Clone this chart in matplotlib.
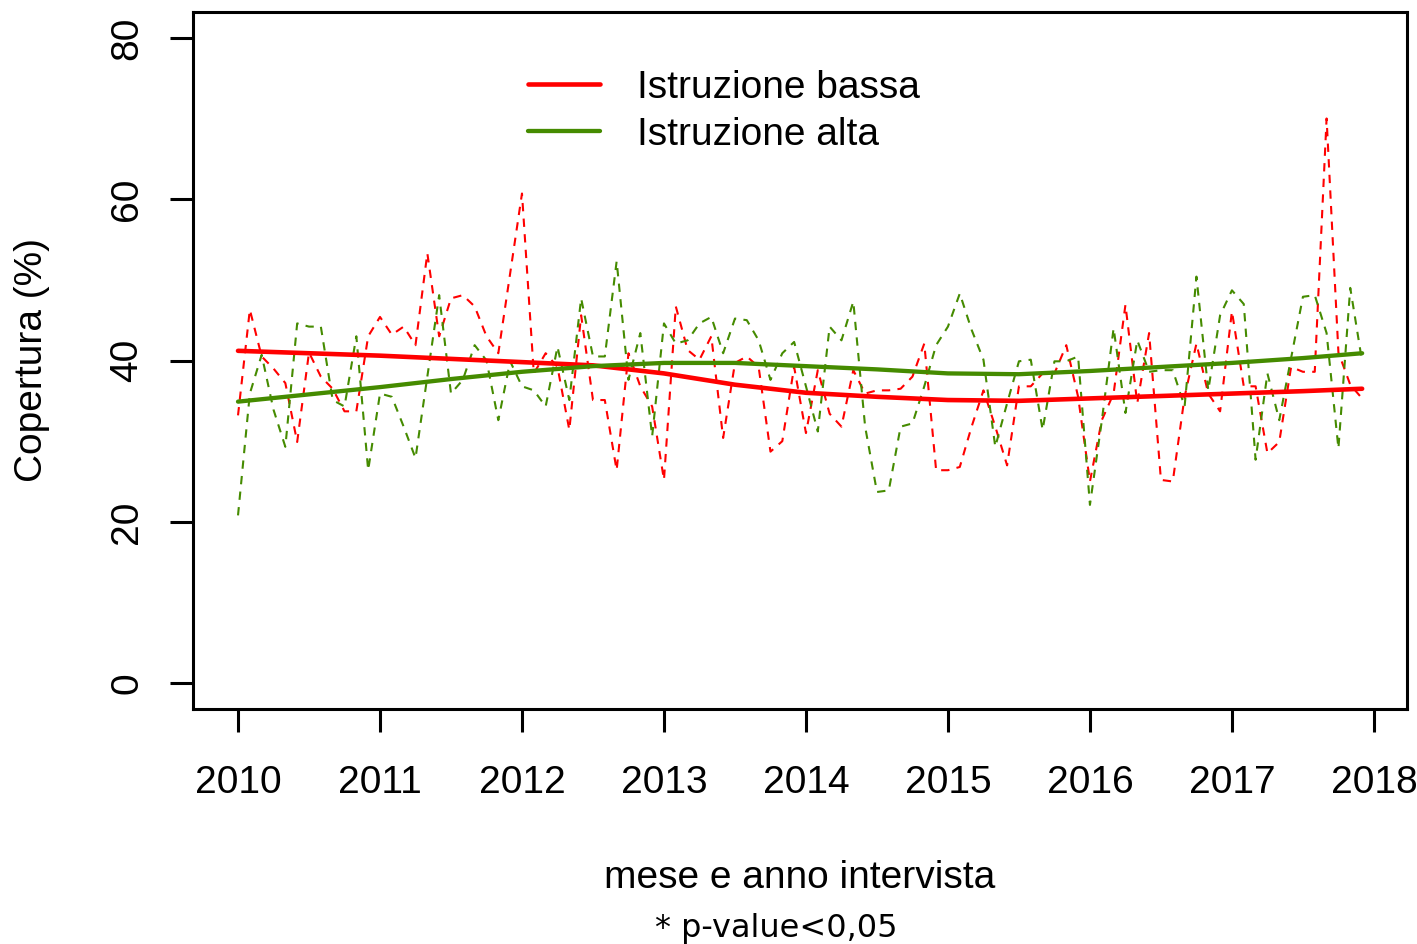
import matplotlib
matplotlib.use("Agg")
import matplotlib.pyplot as plt
import numpy as np

# ---- data ----
months = np.arange(96)           # Jan 2010 ... Dec 2017
x_dates = 2010 + months / 12.0

bassa = [33.2, 46.3, 40.5, 39.0, 37.2, 29.9, 41.0, 38.0, 36.5, 33.7, 33.7, 43.0,
         45.4, 43.2, 44.2, 41.9, 53.3, 43.0, 47.7, 48.1, 46.7, 43.0, 40.9, 50.8,
         60.7, 38.4, 40.9, 39.2, 31.4, 45.6, 35.1, 35.1, 26.4, 40.9, 36.8, 34.3,
         25.2, 46.7, 41.3, 40.1, 43.0, 30.4, 39.7, 40.5, 39.2, 28.7, 30.0, 39.2,
         31.0, 38.8, 33.4, 31.8, 38.8, 35.9, 36.3, 36.3, 36.5, 38.0, 42.1, 26.4,
         26.4, 26.8, 31.8, 36.3, 31.8, 27.0, 36.8, 36.8, 38.4, 38.4, 41.9, 35.5,
         25.0, 32.6, 35.9, 46.9, 34.7, 43.4, 25.2, 25.0, 35.5, 42.1, 35.9, 33.7,
         46.1, 36.8, 36.8, 28.5, 29.9, 39.2, 38.6, 38.6, 70.0, 41.0, 37.0, 35.3]

alta = [20.8, 35.9, 40.7, 33.9, 29.3, 44.6, 44.2, 44.2, 35.1, 34.3, 43.0, 26.4,
        35.9, 35.5, 31.8, 27.9, 38.0, 48.1, 35.9, 37.6, 41.9, 40.0, 32.6, 39.9,
        36.8, 36.3, 34.3, 41.7, 35.1, 47.7, 40.5, 40.5, 52.3, 37.6, 43.4, 30.6,
        44.6, 42.1, 42.5, 44.6, 45.4, 40.9, 45.2, 45.0, 42.5, 37.6, 40.9, 42.3,
        36.8, 31.2, 44.2, 42.5, 47.3, 31.8, 23.7, 23.9, 31.8, 32.2, 36.8, 41.9,
        44.2, 48.3, 43.8, 40.1, 29.3, 34.7, 39.9, 40.1, 31.4, 39.9, 39.9, 40.5,
        22.1, 32.5, 44.0, 33.5, 42.5, 38.6, 38.8, 38.8, 34.3, 50.4, 36.3, 45.6,
        48.7, 47.0, 27.7, 38.4, 32.6, 40.3, 47.9, 48.1, 43.4, 29.1, 49.0, 39.9]

# smoothed trends, read at half-year points
trend_x = [2010.0, 2010.5, 2011.0, 2011.5, 2012.0, 2012.5, 2013.0, 2013.5, 2014.0,
           2014.5, 2015.0, 2015.5, 2016.0, 2016.5, 2017.0, 2017.5, 2017.917]
trend_bassa = [41.2, 40.9, 40.6, 40.2, 39.8, 39.4, 38.4, 37.0, 36.0,
               35.5, 35.1, 35.0, 35.3, 35.6, 35.9, 36.2, 36.5]
trend_alta = [34.9, 35.8, 36.7, 37.7, 38.6, 39.3, 39.7, 39.7, 39.3,
              38.9, 38.4, 38.3, 38.7, 39.2, 39.7, 40.3, 40.9]

series_labels = ["Istruzione bassa", "Istruzione alta"]
x_ticks = [2010, 2011, 2012, 2013, 2014, 2015, 2016, 2017, 2018]
y_ticks = [0, 20, 40, 60, 80]
x_title = "mese e anno intervista"
y_title = "Copertura (%)"
note = "* p-value<0,05"

RED = "#FF0000"
GREEN = "#458B00"

plt.rcParams["font.family"] = ["Liberation Sans", "DejaVu Sans"]

W, H = 1417, 944
fig = plt.figure(figsize=(W / 100, H / 100), dpi=100)
ax = fig.add_axes([193 / W, 1 - 709 / H, (1407 - 193) / W, (709 - 12) / H])

ax.plot(x_dates, bassa, color=RED, lw=1.5, dashes=(4, 3.5))
ax.plot(x_dates, alta, color=GREEN, lw=1.5, dashes=(4, 3.5))
l1, = ax.plot(trend_x, trend_bassa, color=RED, lw=3.3, solid_capstyle="round")
l2, = ax.plot(trend_x, trend_alta, color=GREEN, lw=3.1, solid_capstyle="round")

ax.set_xlim(2009.683, 2018.233)
ax.set_ylim(-3.2, 83.2)
ax.set_xticks(x_ticks)
ax.set_xticklabels([str(t) for t in x_ticks])
ax.set_yticks(y_ticks)
ax.set_yticklabels([str(t) for t in y_ticks])

for s in ax.spines.values():
    s.set_linewidth(2.2)
ax.tick_params(axis="both", direction="out", length=16.5, width=2.2, labelsize=28)
ax.tick_params(axis="y", labelrotation=90, pad=18)
ax.tick_params(axis="x", pad=24)
for lab in ax.get_yticklabels():
    lab.set_va("center")

ax.set_xlabel(x_title, fontsize=28)
ax.xaxis.set_label_coords(0.5, (709 - 860) / 697)
ax.xaxis.label.set_va("top")
ax.set_ylabel(y_title, fontsize=28)
ax.yaxis.set_label_coords((50 - 193) / 1214, 0.5)

leg = ax.legend([l1, l2], series_labels, loc="upper left",
                bbox_to_anchor=(528 / W, 1 - 70 / H), bbox_transform=fig.transFigure,
                frameon=False, fontsize=28, handlelength=1.86, handletextpad=0.95,
                borderpad=0, borderaxespad=0, labelspacing=0.28)

fig.text(776 / W, 1 - 929 / H, note, fontsize=23, family="DejaVu Sans",
         ha="center", va="center")

fig.savefig("out.png", dpi=100)
